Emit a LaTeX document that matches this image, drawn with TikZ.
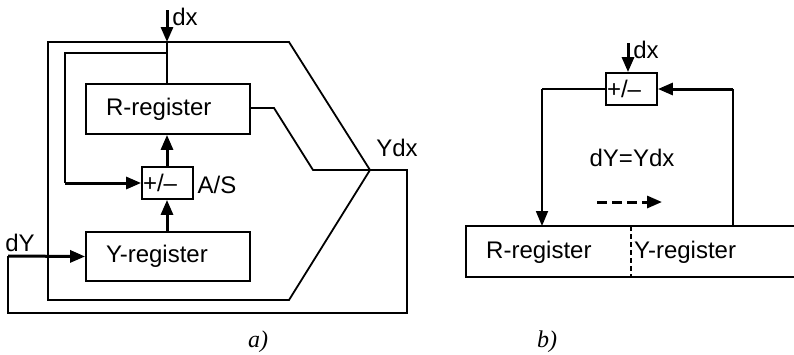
\documentclass[tikz,border=0pt]{standalone}
\usepackage{fontspec}
\setmainfont{Liberation Sans}
\newfontfamily\serifit{Liberation Serif}
\usetikzlibrary{arrows.meta}
\begin{document}
\begin{tikzpicture}[x=1pt,y=-1pt,
  every node/.style={font=\fontsize{24}{27}\selectfont},
  ln/.style={line width=1.8pt},
  thk/.style={line width=3pt},
  arr/.style={-{Triangle[length=15pt,width=12pt]}},
  regbox/.style={draw,line width=1.8pt,minimum width=164pt,minimum height=50pt,inner xsep=20pt,text width=124pt,align=left},
  pmbox/.style={draw,line width=1.8pt,minimum width=51pt,minimum height=32pt,inner xsep=1pt,text width=49pt,align=left},
  lbl/.style={inner sep=0pt},
  captext/.style={inner sep=0pt,font=\serifit\itshape\fontsize{24}{27}\selectfont}]
\useasboundingbox (0,0) rectangle (794,354);
% ---------- a) ----------
\node[regbox] (Rreg) at (168,109) {R-register};
\node[regbox,minimum height=49pt] (Yreg) at (168,256.5) {Y-register};
\node[pmbox] (PM) at (167.5,183) {+/--};
\coordinate (dxa) at (167,10);
\coordinate (J1) at (167,42);
\coordinate (J2) at (167,53);
\coordinate (Y0) at (370,170);
\coordinate (dYs) at (8,256);
\draw[thk,arr] (dxa) -- (J1);
\draw[ln] (48,42) -- (289,42) -- (Y0) -- (289,300) -- (48,300) -- cycle;
\draw[ln] (J1) -- (Rreg.north -| J1);
\draw[ln] (J2) -- (65,53) -- (65,183);
\draw[thk,arr] (65,183) -- (PM.west);
\draw[thk,arr] (PM.north -| J1) -- (Rreg.south -| J1);
\draw[thk,arr] (Yreg.north -| J1) -- (PM.south -| J1);
\draw[thk,arr] (dYs) -- (Yreg.west);
\draw[ln] (Rreg.east |- 0,108) -- (274,108) -- (313,170) -- (Y0) -- (407,170) -- (407,313) -- (8,313) -- (dYs);
\node[lbl] (ldx) at (185,17) {dx};
\node[lbl] (ldY) at (20,243) {dY};
\node[lbl] (lAS) at (217,185) {A/S};
\node[lbl] (lYdx) at (397,148) {Ydx};
\node[captext] (ca) at (258,342) {a)};
% ---------- b) ----------
\node[pmbox] (PM2) at (631.5,89) {+/--};
\coordinate (dxb) at (628,43);
\coordinate (RL) at (542,226);
\coordinate (RR) at (733,226);
\draw[thk,arr] (dxb) -- (PM2.north -| dxb);
\draw[ln] (PM2.west) -- (542,89);
\draw[ln,arr] (542,89) -- (RL);
\draw[ln] (RR) -- (733,89);
\draw[thk,arr] (733,89) -- (PM2.east);
\draw[ln] (800,226) -- (466,226) -- (466,277) -- (800,277);
\draw[line width=1.8pt,dash pattern=on 5pt off 3pt] (631,226) -- (631,277);
\node[lbl,anchor=west] (Rr2) at (486,252) {R-register};
\node[lbl,anchor=west] (Yr2) at (634,252) {Y-register};
\node[lbl] (eq) at (632,158) {dY=Ydx};
\coordinate (da1) at (597,202);
\coordinate (da2) at (662,202);
\draw[thk,dash pattern=on 10pt off 5pt,arr] (da1) -- (da2);
\node[lbl] (dxl2) at (646,50) {dx};
\node[captext] (cb) at (547,342) {b)};
\end{tikzpicture}
\end{document}
